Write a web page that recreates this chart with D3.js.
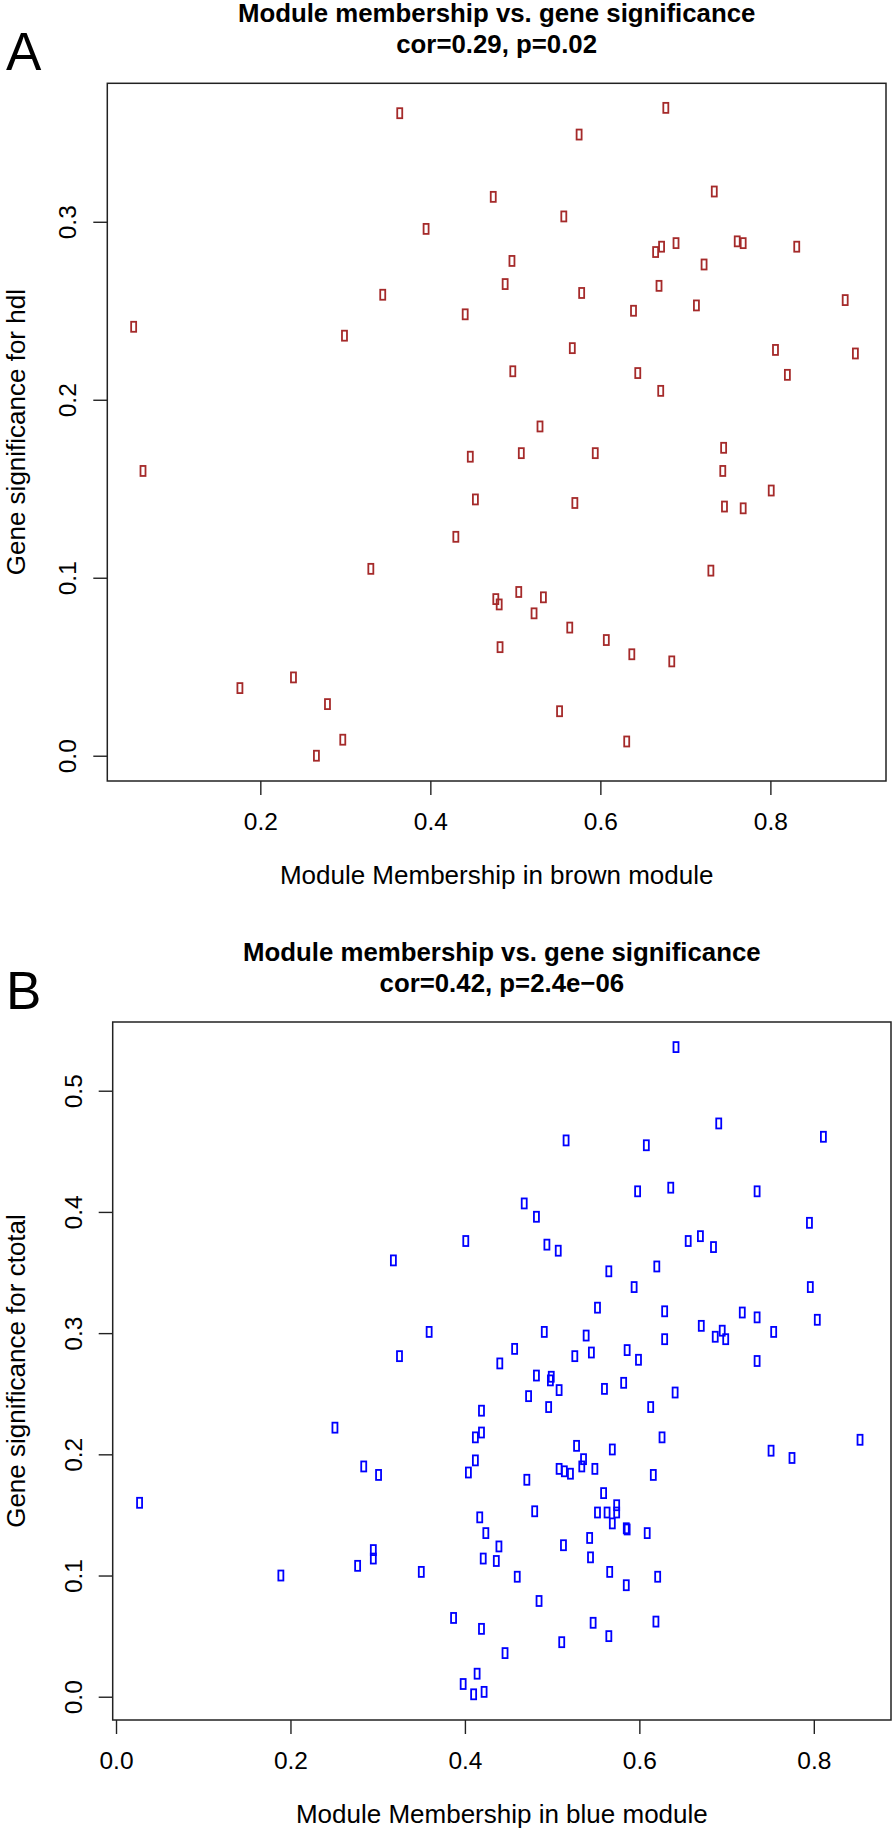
<!DOCTYPE html>
<html>
<head>
<meta charset="utf-8">
<script src="https://cdn.jsdelivr.net/npm/d3@7"></script>
<style>
  html, body { margin: 0; padding: 0; background: #ffffff; }
  svg { display: block; }
  text { font-family: "Liberation Sans", Arial, Helvetica, sans-serif; fill: #000; }
</style>
</head>
<body>
<div id="chart"></div>
<script>
// ---------------- data ----------------
const brownMM = [0.364,0.474,0.395,0.488,0.344,0.441,0.051,0.299,
  0.677,0.575,0.734,0.557,0.496,0.665,0.672,0.689,0.761,0.768,0.831,0.722,0.578,0.669,0.639,0.713,0.888,0.567,0.806,0.900,0.497,0.644,0.820,0.671,0.529,
  0.062,0.447,0.453,0.430,0.330,0.477,0.481,0.482,0.239,0.176,0.279,0.297,0.266,
  0.507,0.594,0.745,0.744,0.801,0.570,0.746,0.768,0.730,0.504,0.533,0.522,0.564,0.607,0.637,0.684,0.552,0.631];
const brownGS = [0.361,0.314,0.296,0.265,0.259,0.248,0.241,0.236,
  0.364,0.349,0.317,0.303,0.278,0.283,0.286,0.288,0.289,0.288,0.286,0.276,0.260,0.264,0.250,0.253,0.256,0.229,0.228,0.226,0.216,0.215,0.214,0.205,0.185,
  0.160,0.168,0.144,0.123,0.105,0.088,0.085,0.061,0.044,0.038,0.029,0.009,0.000,
  0.170,0.170,0.173,0.160,0.149,0.142,0.140,0.139,0.104,0.092,0.089,0.080,0.072,0.065,0.057,0.053,0.025,0.008];

const blueMM = [0.401,0.318,0.359,0.325,0.440,
  0.642,0.691,0.516,0.608,0.811,0.598,0.636,0.735,0.468,0.482,0.795,0.494,0.507,0.656,0.670,0.685,0.565,0.620,0.594,0.796,
  0.552,0.629,0.718,0.735,0.804,0.491,0.539,0.671,0.695,0.687,0.699,0.754,0.629,0.457,0.526,0.545,0.586,0.599,0.735,
  0.482,0.499,0.498,0.508,0.473,0.560,0.582,0.641,0.496,0.613,0.626,0.853,0.751,0.775,0.528,0.569,0.536,0.534,0.508,0.514,
  0.521,0.549,0.616,0.471,0.559,0.574,0.480,0.552,0.563,0.574,0.569,0.585,0.586,0.609,0.513,0.543,0.544,0.460,0.566,0.585,
  0.621,0.485,0.547,0.619,0.511,0.565,0.446,
  0.027,0.189,0.251,0.284,0.301,0.295,0.295,0.277,0.350,0.419,0.412,0.419,0.412,0.404,0.417,0.424,0.439,0.421,0.436,0.387,
  0.419,0.414,0.398,0.410,0.422];
const blueGS = [0.376,0.360,0.301,0.281,0.275,
  0.536,0.473,0.459,0.455,0.462,0.417,0.420,0.417,0.407,0.396,0.391,0.373,0.368,0.376,0.380,0.371,0.351,0.355,0.338,0.338,
  0.321,0.318,0.317,0.313,0.311,0.301,0.298,0.306,0.302,0.297,0.295,0.301,0.295,0.287,0.281,0.284,0.286,0.278,0.277,
  0.265,0.264,0.261,0.253,0.248,0.254,0.259,0.251,0.239,0.239,0.214,0.212,0.203,0.197,0.207,0.204,0.196,0.190,0.188,0.186,
  0.184,0.188,0.183,0.179,0.168,0.158,0.153,0.152,0.152,0.152,0.143,0.139,0.138,0.135,0.125,0.131,0.115,0.099,0.103,0.092,
  0.099,0.079,0.061,0.062,0.045,0.050,0.036,
  0.160,0.100,0.222,0.190,0.183,0.121,0.114,0.108,0.103,0.236,0.214,0.218,0.195,0.185,0.148,0.135,0.124,0.114,0.112,0.065,
  0.056,0.019,0.0105,0.002,0.004];

const panelLetters = ["A", "B"];
const titleLine1 = ["Module membership vs. gene significance", "Module membership vs. gene significance"];
const titleLine2 = ["cor=0.29, p=0.02", "cor=0.42, p=2.4e\u221206"];
const xLabels = ["Module Membership in brown module", "Module Membership in blue module"];
const yLabels = ["Gene significance for hdl", "Gene significance for ctotal"];
const xTicksA = [0.2, 0.4, 0.6, 0.8];
const yTicksA = [0.0, 0.1, 0.2, 0.3];
const xTicksB = [0.0, 0.2, 0.4, 0.6, 0.8];
const yTicksB = [0.0, 0.1, 0.2, 0.3, 0.4, 0.5];
const xLimA = [0.020, 0.936];
const yLimA = [-0.0142, 0.3778];
const xLimB = [-0.0038, 0.8885];
const yLimB = [-0.0192, 0.5567];
const moduleColors = ["#A52A2A", "#0000FF"];

// ---------------- layout ----------------
const W = 894, H = 1830;
const boxes = [
  { left: 107.3, right: 886, top: 83.3, bottom: 781 },
  { left: 112.7, right: 891, top: 1022, bottom: 1720 }
];

const panels = [
  { mm: brownMM, gs: brownGS, xt: xTicksA, yt: yTicksA, xl: xLimA, yl: yLimA },
  { mm: blueMM,  gs: blueGS,  xt: xTicksB, yt: yTicksB, xl: xLimB, yl: yLimB }
];

const svg = d3.select("#chart").append("svg")
  .attr("width", W).attr("height", H)
  .attr("viewBox", `0 0 ${W} ${H}`);
svg.append("rect").attr("width", W).attr("height", H).attr("fill", "#fff");

const fmt = d3.format(".1f");
const axisColor = "#222";

panels.forEach((p, i) => {
  const b = boxes[i];
  const cx = (b.left + b.right) / 2;
  const cy = (b.top + b.bottom) / 2;
  const x = d3.scaleLinear().domain(p.xl).range([b.left, b.right]);
  const y = d3.scaleLinear().domain(p.yl).range([b.bottom, b.top]);
  const g = svg.append("g");

  // panel letter
  g.append("text").attr("x", 6).attr("y", b.top - 13)
    .attr("font-size", 53).text(panelLetters[i]);

  // titles
  g.append("text").attr("x", cx).attr("y", b.top - 61)
    .attr("text-anchor", "middle").attr("font-size", 25.8).attr("font-weight", "bold")
    .text(titleLine1[i]);
  g.append("text").attr("x", cx).attr("y", b.top - 30.5)
    .attr("text-anchor", "middle").attr("font-size", 25.8).attr("font-weight", "bold")
    .text(titleLine2[i]);

  // x axis
  const xa = g.append("g").attr("transform", `translate(0,${b.bottom})`)
    .call(d3.axisBottom(x).tickValues(p.xt).tickFormat(fmt).tickSize(14).tickSizeOuter(0));
  xa.select(".domain").remove();
  xa.selectAll(".tick line").attr("stroke", axisColor).attr("stroke-width", 1.4);
  xa.selectAll(".tick text").attr("y", 49).attr("dy", 0)
    .attr("font-size", 24.5).attr("font-family", "Liberation Sans, Arial, sans-serif").attr("fill", "#000");

  // y axis
  const ya = g.append("g").attr("transform", `translate(${b.left},0)`)
    .call(d3.axisLeft(y).tickValues(p.yt).tickFormat(fmt).tickSize(14).tickSizeOuter(0));
  ya.select(".domain").remove();
  ya.selectAll(".tick line").attr("stroke", axisColor).attr("stroke-width", 1.4);
  ya.selectAll(".tick text")
    .attr("x", 0).attr("y", -31).attr("dy", 0)
    .attr("transform", "rotate(-90)")
    .attr("text-anchor", "middle")
    .attr("font-size", 24.5).attr("font-family", "Liberation Sans, Arial, sans-serif").attr("fill", "#000");

  // axis labels
  g.append("text").attr("x", cx).attr("y", b.bottom + 103)
    .attr("text-anchor", "middle").attr("font-size", 26).text(xLabels[i]);
  g.append("text").attr("transform", `translate(24.5,${cy}) rotate(-90)`)
    .attr("text-anchor", "middle").attr("font-size", 26).text(yLabels[i]);

  // points
  const pts = p.mm.map((v, k) => ({ mm: v, gs: p.gs[k] }));
  g.append("g").selectAll("rect").data(pts).join("rect")
    .attr("x", d => x(d.mm) - 2.5)
    .attr("y", d => y(d.gs) - 5)
    .attr("width", 5).attr("height", 10)
    .attr("fill", "none")
    .attr("stroke", moduleColors[i])
    .attr("stroke-width", 1.8);

  // plot box
  g.append("rect").attr("x", b.left).attr("y", b.top)
    .attr("width", b.right - b.left).attr("height", b.bottom - b.top)
    .attr("fill", "none").attr("stroke", axisColor).attr("stroke-width", 1.5);
});
</script>
</body>
</html>
